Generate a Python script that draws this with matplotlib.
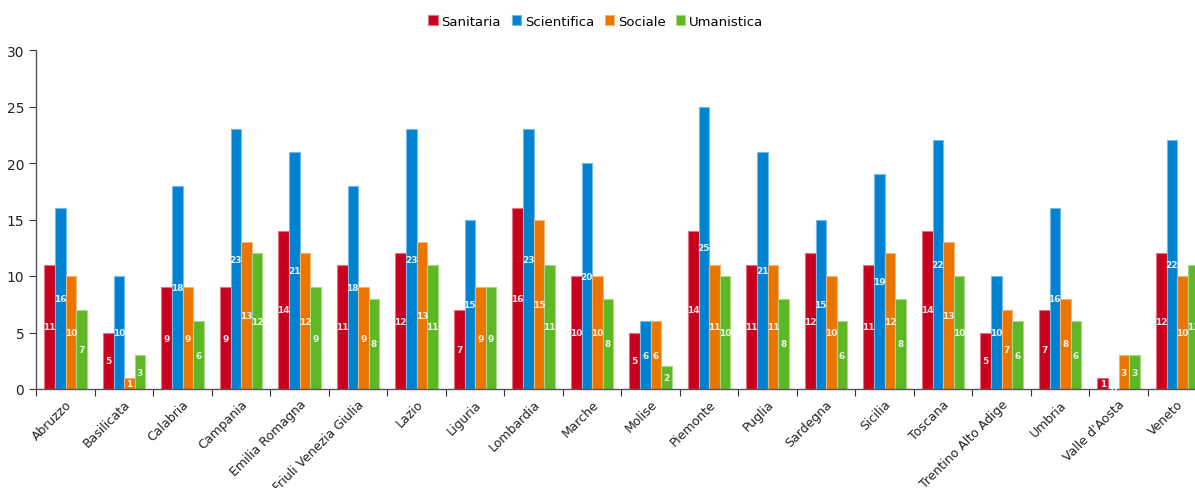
import numpy as np
import matplotlib
matplotlib.use("Agg")
import matplotlib.pyplot as plt
from matplotlib.colors import to_rgb

regions = ["Abruzzo", "Basilicata", "Calabria", "Campania", "Emilia Romagna",
           "Friuli Venezia Giulia", "Lazio", "Liguria", "Lombardia", "Marche",
           "Molise", "Piemonte", "Puglia", "Sardegna", "Sicilia", "Toscana",
           "Trentino Alto Adige", "Umbria", "Valle d'Aosta", "Veneto"]

sanitaria = [11, 5, 9, 9, 14, 11, 12, 7, 16, 10, 5, 14, 11, 12, 11, 14, 5, 7, 1, 12]
scientifica = [16, 10, 18, 23, 21, 18, 23, 15, 23, 20, 6, 25, 21, 15, 19, 22, 10, 16, 0, 22]
sociale = [10, 1, 9, 13, 12, 9, 13, 9, 15, 10, 6, 11, 11, 10, 12, 13, 7, 8, 3, 10]
umanistica = [7, 3, 6, 12, 9, 8, 11, 9, 11, 8, 2, 10, 8, 6, 8, 10, 6, 6, 3, 11]

series = [
    ("Sanitaria", sanitaria, "#c8001e"),
    ("Scientifica", scientifica, "#0082d2"),
    ("Sociale", sociale, "#ea7600"),
    ("Umanistica", umanistica, "#5db824"),
]


def lighten(c, f=0.45):
    r, g, b = to_rgb(c)
    return (r + (1 - r) * f, g + (1 - g) * f, b + (1 - b) * f)


W, H = 1195, 489
fig = plt.figure(figsize=(W / 100, H / 100), dpi=100)
# plot area runs past the right edge, so the last group is cut off
ax = fig.add_axes([36 / W, (H - 390) / H, 1170 / W, 339 / H])

n = len(regions)
x = np.arange(n)
bw = 0.18
start = 0.5 - 2 * bw + 0.005

for k, (name, vals, col) in enumerate(series):
    pos = x + start + k * bw + bw / 2
    ax.bar(pos, vals, width=bw, color=col, edgecolor=lighten(col),
           linewidth=0.8, label=name, zorder=2)
    for px, v in zip(pos, vals):
        ax.text(px, v / 2, str(v), ha="center", va="center", color="white",
                fontsize=6.5, fontweight="bold", alpha=0.9, zorder=3)

ax.set_xlim(0, n)
ax.set_ylim(0, 30)

ax.set_xticks(np.arange(n + 1))
ax.set_xticklabels([])
ax.set_xticks(x + 0.5, minor=True)
ax.set_xticklabels(regions, minor=True, rotation=45, ha="right",
                   rotation_mode="anchor", fontsize=9, color="#222222")
ax.tick_params(axis="x", which="minor", length=0, pad=6)
ax.tick_params(axis="x", which="major", length=5, color="#333333")

ax.set_yticks(np.arange(0, 31, 5))
ax.tick_params(axis="y", length=5, color="#333333", labelsize=10,
               labelcolor="#222222")

for s in ("top", "right"):
    ax.spines[s].set_visible(False)
for s in ("left", "bottom"):
    ax.spines[s].set_color("#555555")
    ax.spines[s].set_linewidth(1)

fig.legend(loc="center", bbox_to_anchor=(596 / W, 1 - 22 / H), ncol=4,
           frameon=False, fontsize=9.5, handlelength=0.7, handleheight=0.7,
           handletextpad=0.3, columnspacing=0.8)

fig.savefig("out.png", dpi=100)
